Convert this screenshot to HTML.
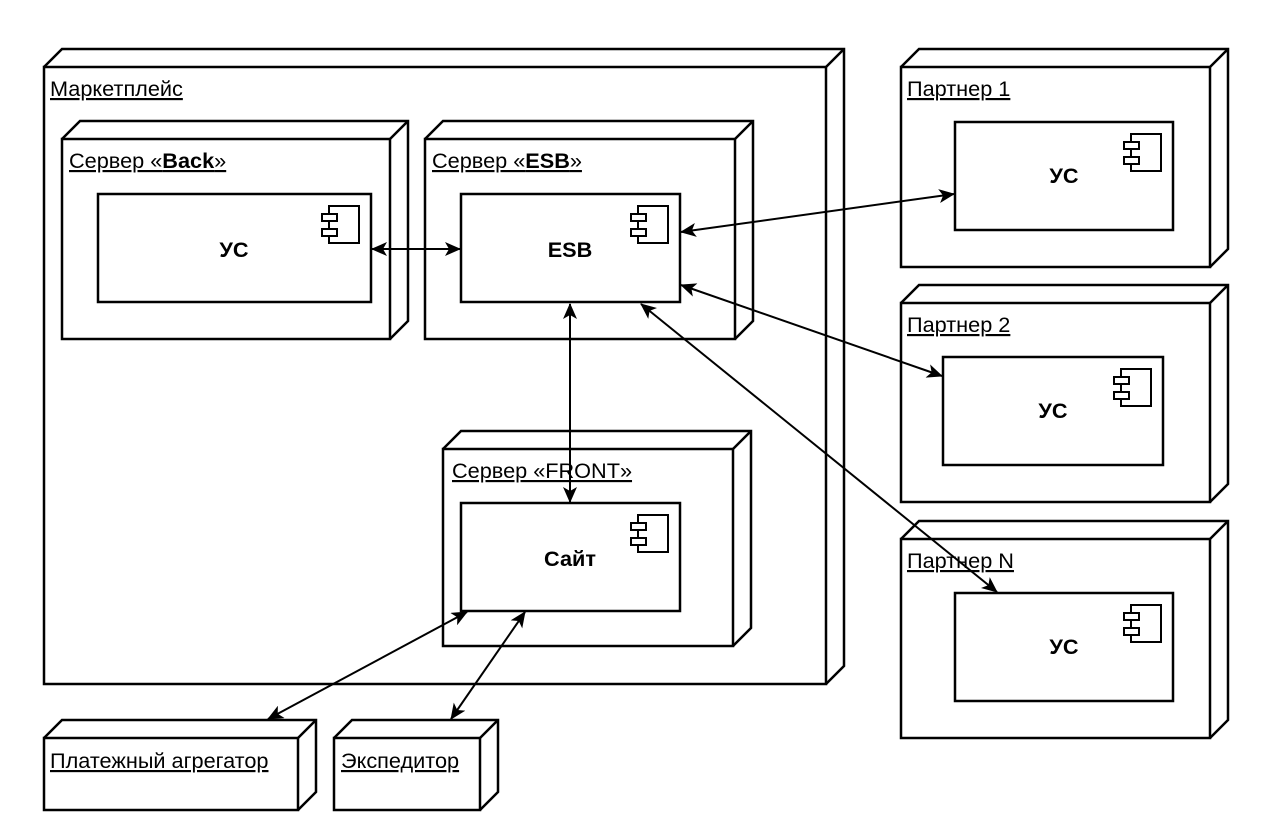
<!DOCTYPE html>
<html><head><meta charset="utf-8"><style>
html,body{margin:0;padding:0;background:#fff;}
svg{display:block;}
text{font-family:"Liberation Sans","DejaVu Sans",sans-serif;font-size:21.7px;fill:#000;}
.u{text-decoration:underline;}
.b{font-weight:bold;}
</style></head><body>
<svg width="1280" height="831" viewBox="0 0 1280 831" xmlns="http://www.w3.org/2000/svg">
<defs>
<marker id="a" viewBox="0 0 16 14" refX="15" refY="7" markerWidth="16" markerHeight="14" orient="auto-start-reverse" markerUnits="userSpaceOnUse">
<path d="M0,0 L16,7 L0,14 L4,7 z" fill="#000"/>
</marker>
<g id="ic">
<rect x="-42" y="12" width="30" height="37" fill="#fff" stroke="#000" stroke-width="2"/>
<rect x="-49" y="20" width="15" height="7" fill="#fff" stroke="#000" stroke-width="2"/>
<rect x="-49" y="35" width="15" height="7" fill="#fff" stroke="#000" stroke-width="2"/>
</g>
</defs>
<g fill="#fff" stroke="#000" stroke-width="2.5">
<path d="M44,67 L62,49 L844,49 L844,666 L826,684 M826,67 L844,49"/>
<rect x="44" y="67" width="782" height="617"/>
<path d="M62,139 L80,121 L408,121 L408,321 L390,339 M390,139 L408,121"/>
<rect x="62" y="139" width="328" height="200"/>
<path d="M425,139 L443,121 L753,121 L753,321 L735,339 M735,139 L753,121"/>
<rect x="425" y="139" width="310" height="200"/>
<path d="M443,449 L461,431 L751,431 L751,628 L733,646 M733,449 L751,431"/>
<rect x="443" y="449" width="290" height="197"/>
<path d="M901,67 L919,49 L1228,49 L1228,249 L1210,267 M1210,67 L1228,49"/>
<rect x="901" y="67" width="309" height="200"/>
<path d="M901,303 L919,285 L1228,285 L1228,484 L1210,502 M1210,303 L1228,285"/>
<rect x="901" y="303" width="309" height="199"/>
<path d="M901,539 L919,521 L1228,521 L1228,720 L1210,738 M1210,539 L1228,521"/>
<rect x="901" y="539" width="309" height="199"/>
<path d="M44,738 L62,720 L316,720 L316,792 L298,810 M298,738 L316,720"/>
<rect x="44" y="738" width="254" height="72"/>
<path d="M334,738 L352,720 L498,720 L498,792 L480,810 M480,738 L498,720"/>
<rect x="334" y="738" width="146" height="72"/>
</g>
<g fill="#fff" stroke="#000" stroke-width="2.5">
<rect x="98" y="194" width="273" height="108"/>
<rect x="461" y="194" width="219" height="108"/>
<rect x="461" y="503" width="219" height="108"/>
<rect x="955" y="122" width="218" height="108"/>
<rect x="943" y="357" width="220" height="108"/>
<rect x="955" y="593" width="218" height="108"/>
</g>
<use href="#ic" x="371" y="194"/>
<use href="#ic" x="680" y="194"/>
<use href="#ic" x="680" y="503"/>
<use href="#ic" x="1173" y="122"/>
<use href="#ic" x="1163" y="357"/>
<use href="#ic" x="1173" y="593"/>
<text x="50" y="96" class="u">Маркетплейс</text>
<text x="69" y="168" class="u">Сервер «<tspan class="b">Back</tspan>»</text>
<text x="432" y="168" class="u">Сервер «<tspan class="b">ESB</tspan>»</text>
<text x="452" y="478" class="u">Сервер «FRONT»</text>
<text x="907" y="96" class="u">Партнер 1</text>
<text x="907" y="332" class="u">Партнер 2</text>
<text x="907" y="568" class="u">Партнер N</text>
<text x="50" y="768" class="u">Платежный агрегатор</text>
<text x="341" y="768" class="u">Экспедитор</text>
<g text-anchor="middle">
<text x="234" y="257" class="b">УС</text>
<text x="570" y="257" class="b">ESB</text>
<text x="570" y="566" class="b">Сайт</text>
<text x="1064" y="183" class="b">УС</text>
<text x="1053" y="418" class="b">УС</text>
<text x="1064" y="654" class="b">УС</text>
</g>
<g stroke="#000" stroke-width="2" fill="none" marker-start="url(#a)" marker-end="url(#a)">
<line x1="372" y1="249" x2="460" y2="249"/>
<line x1="681" y1="232" x2="954" y2="194"/>
<line x1="681" y1="285" x2="942" y2="376"/>
<line x1="641" y1="304" x2="997" y2="592"/>
<line x1="570" y1="304" x2="570" y2="502"/>
<line x1="467" y1="612" x2="268" y2="719"/>
<line x1="525" y1="612" x2="451" y2="719"/>
</g>
</svg>
</body></html>
